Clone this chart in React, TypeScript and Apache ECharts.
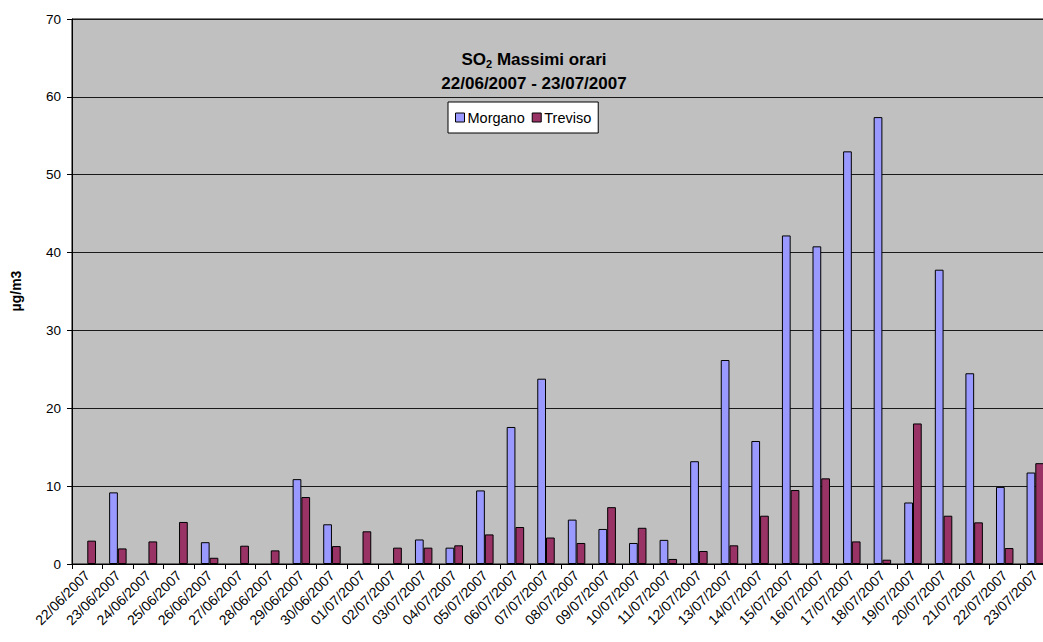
import React, { useEffect, useRef } from "react";
import * as echarts from "echarts";

const categories = [
  "22/06/2007", "23/06/2007", "24/06/2007", "25/06/2007", "26/06/2007", "27/06/2007",
  "28/06/2007", "29/06/2007", "30/06/2007", "01/07/2007", "02/07/2007", "03/07/2007",
  "04/07/2007", "05/07/2007", "06/07/2007", "07/07/2007", "08/07/2007", "09/07/2007",
  "10/07/2007", "11/07/2007", "12/07/2007", "13/07/2007", "14/07/2007", "15/07/2007",
  "16/07/2007", "17/07/2007", "18/07/2007", "19/07/2007", "20/07/2007", "21/07/2007",
  "22/07/2007", "23/07/2007",
];

const morgano: (number | null)[] = [
  null, 9.2, null, null, 2.8, null, null, 10.9, 5.1, null,
  null, 3.15, 2.1, 9.45, 17.6, 23.8, 5.7, 4.5, 2.7, 3.1,
  13.2, 26.2, 15.8, 42.2, 40.8, 53.0, 57.4, 7.9, 37.8, 24.5, 9.9, 11.75,
];

const treviso: number[] = [
  3.0, 2.0, 2.9, 5.4, 0.8, 2.35, 1.75, 8.6, 2.3, 4.2,
  2.1, 2.1, 2.4, 3.8, 4.75, 3.4, 2.7, 7.3, 4.65, 0.65,
  1.67, 2.4, 6.2, 9.5, 11.0, 2.9, 0.55, 18.05, 6.2, 5.35, 2.05, 12.95,
];

const seriesNames = ["Morgano", "Treviso"];
const titleLine2 = "22/06/2007 - 23/07/2007";
const yAxisName = "µg/m3";

const FONT = "'Liberation Sans', Arial, sans-serif";

export default function App() {
  const ref = useRef<HTMLDivElement>(null);

  useEffect(() => {
    if (!ref.current) return;
    const chart = echarts.init(ref.current, undefined, { renderer: "svg" });
    chart.setOption({
      animation: false,
      backgroundColor: "#ffffff",
      textStyle: { fontFamily: FONT },
      title: {
        text: "{b|SO}{s|2}{b| Massimi orari}\n{b|" + titleLine2 + "}",
        left: 529,
        top: 42,
        textAlign: "center",
        textStyle: {
          rich: {
            b: { fontSize: 17, fontWeight: "bold", color: "#000", fontFamily: FONT, lineHeight: 24 },
            s: { fontSize: 11, fontWeight: "bold", color: "#000", fontFamily: FONT, padding: [9, 0, 0, 0], lineHeight: 24 },
          },
        },
      },
      legend: {
        data: seriesNames,
        left: 448,
        top: 102,
        orient: "horizontal",
        backgroundColor: "#ffffff",
        borderColor: "#000",
        borderWidth: 1,
        borderRadius: 0,
        padding: [8, 7, 8, 7],
        itemWidth: 9,
        itemHeight: 9,
        itemGap: 7,
        icon: "rect",
        itemStyle: { borderColor: "#000", borderWidth: 1 },
        textStyle: { fontSize: 14.5, color: "#000", fontFamily: FONT, padding: [0, 0, 0, -2] },
      },
      grid: {
        left: 72,
        top: 19,
        right: 9.4,
        bottom: 78,
        show: true,
        backgroundColor: "#C0C0C0",
        borderColor: "#000",
        borderWidth: 1,
        containLabel: false,
      },
      xAxis: {
        type: "category",
        data: categories,
        axisLine: { show: true, lineStyle: { color: "#000", width: 1 } },
        axisTick: { show: true, interval: 0, length: 5, alignWithLabel: false, lineStyle: { color: "#000" } },
        axisLabel: {
          interval: 0,
          rotate: 45,
          fontSize: 14,
          color: "#000",
          fontFamily: FONT,
          margin: 9,
          padding: [0, 0, 8, 0],
        },
        splitLine: { show: false },
      },
      yAxis: {
        type: "value",
        min: 0,
        max: 70,
        interval: 10,
        axisLine: { show: true, lineStyle: { color: "#000", width: 1 } },
        axisTick: { show: true, length: 5, lineStyle: { color: "#000" } },
        axisLabel: { fontSize: 13.5, color: "#000", fontFamily: FONT, margin: 11 },
        splitLine: { show: true, lineStyle: { color: "#1a1a1a", width: 1 } },
      },
      graphic: [
        {
          type: "text",
          x: 16,
          y: 291,
          rotation: Math.PI / 2,
          style: {
            text: yAxisName,
            fontSize: 14,
            fontWeight: "bold",
            fill: "#000",
            fontFamily: FONT,
            align: "center",
            verticalAlign: "middle",
          },
        },
      ],
      series: [
        {
          name: seriesNames[0],
          type: "bar",
          data: morgano,
          barGap: "0%",
          barCategoryGap: "42.86%",
          itemStyle: { color: "#9999FF", borderColor: "#000", borderWidth: 1 },
        },
        {
          name: seriesNames[1],
          type: "bar",
          data: treviso,
          barGap: "0%",
          barCategoryGap: "42.86%",
          itemStyle: { color: "#993366", borderColor: "#000", borderWidth: 1 },
        },
      ],
    });
    return () => chart.dispose();
  }, []);

  return (
    <div
      style={{
        position: "fixed",
        left: 0,
        top: 0,
        width: 1043,
        height: 642,
        overflow: "hidden",
        background: "#fff",
      }}
    >
      <div ref={ref} style={{ width: 1060, height: 642 }} />
    </div>
  );
}
